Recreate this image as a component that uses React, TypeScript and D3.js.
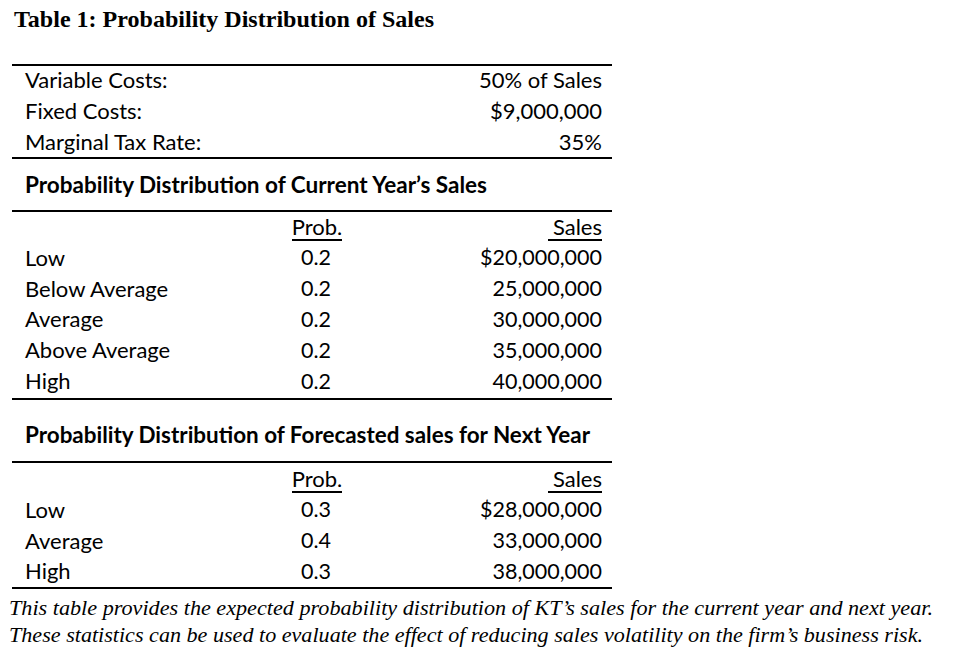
import React from "react";
import * as d3 from "d3";

const title = "Table 1: Probability Distribution of Sales";
const costLabels = ["Variable Costs:", "Fixed Costs:", "Marginal Tax Rate:"];
const costValues = ["50% of Sales", "$9,000,000", "35%"];

const currentTitle = "Probability Distribution of Current Year\u2019s Sales";
const currentStates = ["Low", "Below Average", "Average", "Above Average", "High"];
const currentProbs = [0.2, 0.2, 0.2, 0.2, 0.2];
const currentSales = [20000000, 25000000, 30000000, 35000000, 40000000];

const nextTitle = "Probability Distribution of Forecasted sales for Next Year";
const nextStates = ["Low", "Average", "High"];
const nextProbs = [0.3, 0.4, 0.3];
const nextSales = [28000000, 33000000, 38000000];

const colHeaders = ["Prob.", "Sales"];
const captionLines = [
  "This table provides the expected probability distribution of KT\u2019s sales for the current year and next year.",
  "These statistics can be used to evaluate the effect of reducing sales volatility on the firm\u2019s business risk.",
];

const W = 964;
const H = 660;
const SANS = "Lato, 'Open Sans', sans-serif";
const SERIF = "'Liberation Serif', 'Times New Roman', serif";
const FS = 22;
const FSNUM = 21.5;

const fmtComma = d3.format(",");
const fmtSales = (v: number, i: number) => (i === 0 ? "$" : "") + fmtComma(v);
const fmtProb = d3.format(".1f");

const xLeft = 12;
const xRight = 612;
const xLabel = 25;
const xProb = 316;
const xVal = 602;
const rowStep = 30.9;

function Rule({ y }: { y: number }) {
  return <line x1={xLeft} x2={xRight} y1={y} y2={y} stroke="#000" strokeWidth={2} />;
}

function DistTable({
  top,
  states,
  probs,
  sales,
}: {
  top: number;
  states: string[];
  probs: number[];
  sales: number[];
}) {
  const y = d3
    .scaleLinear()
    .domain([0, 1])
    .range([top, top + rowStep]);
  const headerY = y(0);
  return (
    <g fontFamily={SANS} fontSize={FS} fill="#000">
      <text x={xProb + 1} y={headerY} dy="0.35em" textAnchor="middle">
        {colHeaders[0]}
      </text>
      <line x1={xProb - 24} x2={xProb + 26} y1={headerY + 13} y2={headerY + 13} stroke="#000" strokeWidth={2} />
      <text x={xVal} y={headerY} dy="0.35em" textAnchor="end">
        {colHeaders[1]}
      </text>
      <line x1={xVal - 54} x2={xVal} y1={headerY + 13} y2={headerY + 13} stroke="#000" strokeWidth={2} />
      {states.map((s, i) => (
        <g key={s}>
          <text x={xLabel} y={y(i + 1)} dy="0.35em">
            {s}
          </text>
          <text x={xProb} y={y(i + 1)} dy="0.35em" textAnchor="middle" fontSize={FSNUM}>
            {fmtProb(probs[i])}
          </text>
          <text x={xVal} y={y(i + 1)} dy="0.35em" textAnchor="end" fontSize={FSNUM}>
            {fmtSales(sales[i], i)}
          </text>
        </g>
      ))}
    </g>
  );
}

export default function App() {
  const yCost = d3.scaleLinear().domain([0, 1]).range([80, 111]);
  return (
    <svg
      width={W}
      height={H}
      style={{ position: "absolute", left: 0, top: 0, background: "#fff" }}
    >
      <rect width={W} height={H} fill="#fff" />
      <text x={14} y={27} fontFamily={SERIF} fontWeight="bold" fontSize={23.5} fill="#000" textLength={420} lengthAdjust="spacingAndGlyphs">
        {title}
      </text>
      <Rule y={65} />
      <g fontFamily={SANS} fontSize={FS} fill="#000">
        {costLabels.map((l, i) => (
          <g key={l}>
            <text x={xLabel} y={yCost(i)} dy="0.35em">
              {l}
            </text>
            <text x={xVal} y={yCost(i)} dy="0.35em" textAnchor="end">
              {costValues[i]}
            </text>
          </g>
        ))}
      </g>
      <Rule y={158} />
      <text x={xLabel} y={185} dy="0.35em" fontFamily={SANS} fontWeight="bold" fontSize={FS} fill="#000" textLength={462} lengthAdjust="spacingAndGlyphs">
        {currentTitle}
      </text>
      <Rule y={211} />
      <DistTable top={227} states={currentStates} probs={currentProbs} sales={currentSales} />
      <Rule y={399} />
      <text x={xLabel} y={435} dy="0.35em" fontFamily={SANS} fontWeight="bold" fontSize={FS} fill="#000" textLength={565} lengthAdjust="spacingAndGlyphs">
        {nextTitle}
      </text>
      <Rule y={462} />
      <DistTable top={479} states={nextStates} probs={nextProbs} sales={nextSales} />
      <Rule y={588} />
      <g fontFamily={SERIF} fontStyle="italic" fontSize={21} fill="#000">
        <text x={9} y={615} textLength={924} lengthAdjust="spacingAndGlyphs">
          {captionLines[0]}
        </text>
        <text x={9} y={642} textLength={914} lengthAdjust="spacingAndGlyphs">
          {captionLines[1]}
        </text>
      </g>
    </svg>
  );
}
